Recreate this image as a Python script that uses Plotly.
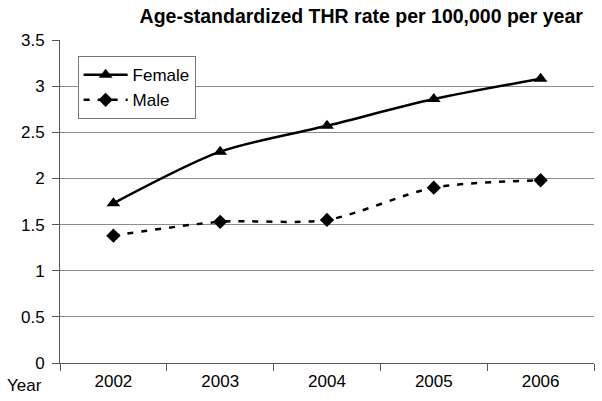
import plotly.graph_objects as go

years = ["2002", "2003", "2004", "2005", "2006"]
female = [1.73, 2.29, 2.57, 2.86, 3.08]
male = [1.38, 1.53, 1.55, 1.90, 1.98]
y_ticks = [0, 0.5, 1, 1.5, 2, 2.5, 3, 3.5]

fig = go.Figure()
fig.add_trace(go.Scatter(
    x=years, y=female, name="Female", mode="lines+markers",
    line=dict(color="black", width=2.5, shape="spline", smoothing=0.8),
    marker=dict(symbol="triangle-up", size=12, color="black"),
))
fig.add_trace(go.Scatter(
    x=years, y=male, name="Male", mode="lines+markers",
    line=dict(color="black", width=2.5, dash="6px,8px", shape="spline", smoothing=0.8),
    marker=dict(symbol="diamond", size=11, color="black"),
))

font_family = "Liberation Sans, Arial, sans-serif"
fig.update_layout(
    width=602, height=401,
    margin=dict(l=60, r=8, t=40, b=38, autoexpand=False),
    paper_bgcolor="white", plot_bgcolor="white",
    font=dict(family=font_family, size=17, color="black"),
    title=dict(text="<b>Age-standardized THR rate per 100,000 per year</b>",
               xref="container", x=0.6, xanchor="center",
               yref="container", y=0.96, yanchor="middle",
               font=dict(size=19.5, family=font_family, color="black")),
    showlegend=True,
    legend=dict(x=0.033, y=0.95, xanchor="left", yanchor="top",
                bgcolor="white", bordercolor="#777777", borderwidth=1,
                font=dict(size=17, family=font_family), itemwidth=44,
                tracegroupgap=0),
    xaxis=dict(type="category", range=[-0.5, 4.5], tickson="boundaries",
               ticks="outside", ticklen=7, tickcolor="#555555",
               showline=True, linecolor="#555555", linewidth=1,
               showgrid=False, tickfont=dict(size=17), automargin=False,
               ticklabelstandoff=3),
    yaxis=dict(range=[0, 3.5], tickvals=y_ticks, ticks="outside", ticklen=7,
               tickcolor="#555555", showline=True, linecolor="#555555",
               linewidth=1, showgrid=True, gridcolor="#8c8c8c", gridwidth=1,
               zeroline=False, tickfont=dict(size=17), automargin=False,
               ticklabelstandoff=4),
)
fig.add_annotation(text="Year", xref="paper", yref="paper", x=-0.03, y=-0.07,
                   xanchor="right", yanchor="middle", showarrow=False,
                   font=dict(size=17, family=font_family))
fig.write_html("out.html", config={"displayModeBar": False},
               post_script="document.body.style.margin='0px';document.body.style.overflow='hidden';")
